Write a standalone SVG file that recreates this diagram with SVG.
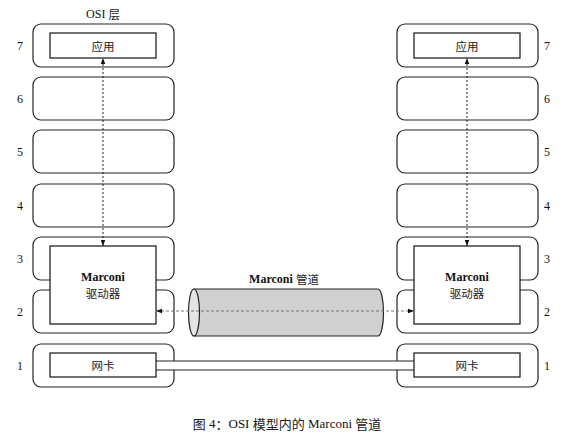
<svg xmlns="http://www.w3.org/2000/svg" width="585" height="436" viewBox="0 0 585 436">
<style>
.layer{fill:#fff;stroke:#222;stroke-width:1.2}
.box{fill:#fff;stroke:#111;stroke-width:1.2}
.t{font-family:"Liberation Serif","DejaVu Serif","Noto Sans CJK SC",serif;font-size:12px;fill:#111;text-anchor:middle;dominant-baseline:central}
.b{font-weight:bold}
.cjk{font-family:"Noto Sans CJK SC","Liberation Serif",serif;font-size:11.5px;fill:#222;text-anchor:middle;dominant-baseline:central}
</style>
<defs>
<marker id="ah" viewBox="0 0 8 8" refX="8" refY="4" markerWidth="6" markerHeight="6" orient="auto-start-reverse" markerUnits="userSpaceOnUse">
<path d="M0,1 L8,4 L0,7 z" fill="#111"/>
</marker>
</defs>
<rect width="585" height="436" fill="#fff"/>
<text class="t" x="103" y="14">OSI <tspan class="cjk">层</tspan></text>

<g id="left-stack">
<rect class="layer" x="33" y="24" width="141" height="43" rx="8"/>
<rect class="layer" x="33" y="77" width="141" height="43" rx="8"/>
<rect class="layer" x="33" y="130" width="141" height="43" rx="8"/>
<rect class="layer" x="33" y="184" width="141" height="43" rx="8"/>
<rect class="layer" x="33" y="237" width="141" height="43" rx="8"/>
<rect class="layer" x="33" y="290" width="141" height="43" rx="8"/>
<rect class="layer" x="33" y="344" width="141" height="43" rx="8"/>
<text class="t" x="20" y="46">7</text>
<text class="t" x="20" y="99">6</text>
<text class="t" x="20" y="152">5</text>
<text class="t" x="20" y="206">4</text>
<text class="t" x="20" y="259">3</text>
<text class="t" x="20" y="312">2</text>
<text class="t" x="20" y="366">1</text>
</g>
<g id="right-stack">
<rect class="layer" x="397" y="24" width="141" height="43" rx="8"/>
<rect class="layer" x="397" y="77" width="141" height="43" rx="8"/>
<rect class="layer" x="397" y="130" width="141" height="43" rx="8"/>
<rect class="layer" x="397" y="184" width="141" height="43" rx="8"/>
<rect class="layer" x="397" y="237" width="141" height="43" rx="8"/>
<rect class="layer" x="397" y="290" width="141" height="43" rx="8"/>
<rect class="layer" x="397" y="344" width="141" height="43" rx="8"/>
<text class="t" x="547" y="46">7</text>
<text class="t" x="547" y="99">6</text>
<text class="t" x="547" y="152">5</text>
<text class="t" x="547" y="206">4</text>
<text class="t" x="547" y="259">3</text>
<text class="t" x="547" y="312">2</text>
<text class="t" x="547" y="366">1</text>
</g>

<g id="pipe">
<path d="M194,289 L378,289 A5.5,23.5 0 0 1 378,336 L194,336 Z" fill="#d0d0d0" stroke="#222" stroke-width="1.2"/>
<ellipse cx="194" cy="312.5" rx="5.5" ry="23.5" fill="#e4e4e4" stroke="#222" stroke-width="1.2"/>
<text class="t" x="284" y="279"><tspan class="b">Marconi</tspan> <tspan class="cjk">管道</tspan></text>
</g>

<g id="cable">
<rect x="150" y="361" width="270" height="9" fill="#fff" stroke="none"/>
<line x1="156" y1="361" x2="414" y2="361" stroke="#222" stroke-width="1.2"/>
<line x1="156" y1="370" x2="414" y2="370" stroke="#222" stroke-width="1.2"/>
</g>

<g id="app-left"><rect class="box" x="50" y="33" width="106" height="25"/><text class="cjk" x="103" y="46">应用</text></g>
<g id="app-right"><rect class="box" x="414" y="33" width="106" height="25"/><text class="cjk" x="467" y="46">应用</text></g>
<g id="driver-left"><rect class="box" x="50" y="246" width="106" height="78"/><text class="t b" x="103" y="277">Marconi</text><text class="cjk" x="103" y="293">驱动器</text></g>
<g id="driver-right"><rect class="box" x="414" y="246" width="106" height="78"/><text class="t b" x="467" y="277">Marconi</text><text class="cjk" x="467" y="293">驱动器</text></g>
<g id="nic-left"><rect class="box" x="50" y="353" width="106" height="24"/><text class="cjk" x="103" y="365">网卡</text></g>
<g id="nic-right"><rect class="box" x="414" y="353" width="106" height="24"/><text class="cjk" x="467" y="365">网卡</text></g>

<g id="connectors">
<line x1="103" y1="246" x2="103" y2="58" stroke="#222" stroke-width="1" stroke-dasharray="2,2" marker-start="url(#ah)" marker-end="url(#ah)"/>
<line x1="467" y1="246" x2="467" y2="58" stroke="#222" stroke-width="1" stroke-dasharray="2,2" marker-start="url(#ah)" marker-end="url(#ah)"/>
<line x1="156" y1="311" x2="414" y2="311" stroke="#777" stroke-width="1.2" stroke-dasharray="3,2" marker-start="url(#ah)" marker-end="url(#ah)"/>
</g>

<text class="t" x="287" y="423" style="font-size:13px"><tspan class="cjk" style="font-size:13px">图</tspan> 4<tspan class="cjk" style="font-size:13px">：</tspan>OSI <tspan class="cjk" style="font-size:13px">模型内的</tspan> Marconi <tspan class="cjk" style="font-size:13px">管道</tspan></text>
</svg>
